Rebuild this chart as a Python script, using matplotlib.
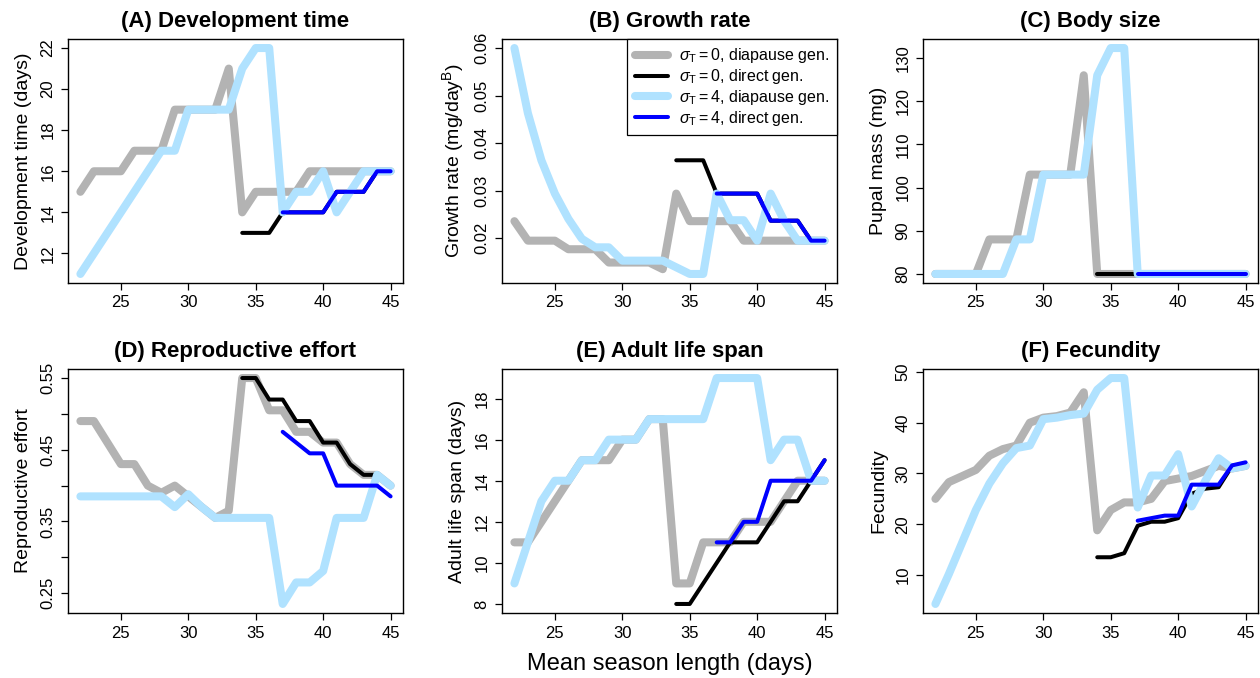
import matplotlib
matplotlib.use('Agg')
import matplotlib.pyplot as plt

plt.rcParams['font.family'] = ['Liberation Sans', 'DejaVu Sans']
plt.rcParams['mathtext.fontset'] = 'custom'
plt.rcParams['mathtext.rm'] = 'Liberation Sans'
plt.rcParams['mathtext.it'] = 'Liberation Sans:italic'

# season lengths
x_all = list(range(22, 46))
x_d0 = list(range(34, 46))   # sigma_T = 0, direct generation
x_d4 = list(range(37, 46))   # sigma_T = 4, direct generation

# (A) development time
dev_g0 = [15, 16, 16, 16, 17, 17, 17, 19, 19, 19, 19, 21, 14, 15, 15, 15, 15, 16, 16, 16, 16, 16, 16, 16]
dev_d0 = [13, 13, 13, 14, 14, 14, 14, 15, 15, 15, 16, 16]
dev_g4 = [11, 12, 13, 14, 15, 16, 17, 17, 19, 19, 19, 19, 21, 22, 22, 14, 15, 15, 16, 14, 15, 16, 16, 16]
dev_d4 = [14, 14, 14, 14, 15, 15, 15, 16, 16]

# (B) growth rate
gr_g0 = [0.0236, 0.0195, 0.0195, 0.0195, 0.0177, 0.0177, 0.0177, 0.0149, 0.0149, 0.0149, 0.0149, 0.0135,
         0.0294, 0.0236, 0.0236, 0.0236, 0.0236, 0.0195, 0.0195, 0.0195, 0.0195, 0.0195, 0.0195, 0.0195]
gr_d0 = [0.0364, 0.0364, 0.0364, 0.0294, 0.0294, 0.0294, 0.0294, 0.0237, 0.0237, 0.0237, 0.0195, 0.0195]
gr_g4 = [0.0600, 0.0463, 0.0364, 0.0294, 0.0241, 0.0199, 0.0181, 0.0181, 0.0153, 0.0153, 0.0153, 0.0153,
         0.0139, 0.0125, 0.0125, 0.0294, 0.0238, 0.0238, 0.0195, 0.0294, 0.0237, 0.0195, 0.0195, 0.0195]
gr_d4 = [0.0294, 0.0294, 0.0294, 0.0294, 0.0237, 0.0237, 0.0237, 0.0195, 0.0195]

# (C) pupal mass
pm_g0 = [80, 80, 80, 80, 88, 88, 88, 103, 103, 103, 103, 126, 80, 80, 80, 80, 80, 80, 80, 80, 80, 80, 80, 80]
pm_d0 = [80] * 12
pm_g4 = [80, 80, 80, 80, 80, 80, 88, 88, 103, 103, 103, 103, 126, 132.3, 132.3, 80, 80, 80, 80, 80, 80, 80, 80, 80]
pm_d4 = [80] * 9

# (D) reproductive effort
re_g0 = [0.49, 0.49, 0.46, 0.43, 0.43, 0.40, 0.39, 0.40, 0.385, 0.37, 0.355, 0.365,
         0.55, 0.55, 0.505, 0.505, 0.475, 0.475, 0.46, 0.46, 0.43, 0.415, 0.415, 0.40]
re_d0 = [0.55, 0.55, 0.52, 0.52, 0.49, 0.49, 0.46, 0.46, 0.43, 0.415, 0.415, 0.40]
re_g4 = [0.385, 0.385, 0.385, 0.385, 0.385, 0.385, 0.385, 0.37, 0.388, 0.37, 0.355, 0.355,
         0.355, 0.355, 0.355, 0.235, 0.265, 0.265, 0.281, 0.355, 0.355, 0.355, 0.415, 0.40]
re_d4 = [0.475, 0.46, 0.445, 0.445, 0.40, 0.40, 0.40, 0.40, 0.385]

# (E) adult life span
ls_g0 = [11, 11, 12, 13, 14, 15, 15, 15, 16, 16, 17, 17, 9, 9, 11, 11, 11, 12, 12, 12, 13, 14, 14, 14]
ls_d0 = [8, 8, 9, 10, 11, 11, 11, 12, 13, 13, 14, 15]
ls_g4 = [9, 11, 13, 14, 14, 15, 15, 16, 16, 16, 17, 17, 17, 17, 17, 19, 19, 19, 19, 15, 16, 16, 14, 14]
ls_d4 = [11, 11, 12, 12, 14, 14, 14, 14, 15]

# (F) fecundity
fe_g0 = [25, 28.3, 29.5, 30.7, 33.5, 34.8, 35.5, 40, 41, 41.3, 42, 46,
         18.8, 22.8, 24.3, 24.3, 25, 28.5, 29, 29.5, 30.5, 31.5, 31, 31.5]
fe_d0 = [13.5, 13.5, 14.3, 19.7, 20.5, 20.5, 21.2, 26, 27, 27.3, 31.5, 32]
fe_g4 = [4.3, 10.2, 16.5, 22.8, 28, 32, 35, 35.5, 40.7, 41, 41.5, 41.8,
         46.5, 48.8, 48.8, 23.3, 29.6, 29.6, 33.8, 23.5, 28.5, 33, 31, 31.5]
fe_d4 = [20.7, 21.2, 21.7, 21.7, 27.8, 27.8, 27.8, 31.6, 32.2]

GRAY = '#B3B3B3'
LBLUE = '#B0E2FF'
BLUE = '#0000FF'

panels = [
    ('(A) Development time', 'Development time (days)', dev_g0, dev_d0, dev_g4, dev_d4,
     [12, 14, 16, 18, 20, 22], None),
    ('(B) Growth rate', r'Growth rate (mg/day$^\mathrm{B}$)', gr_g0, gr_d0, gr_g4, gr_d4,
     [0.02, 0.03, 0.04, 0.05, 0.06], ['0.02', '0.03', '0.04', '0.05', '0.06']),
    ('(C) Body size', 'Pupal mass (mg)', pm_g0, pm_d0, pm_g4, pm_d4,
     [80, 90, 100, 110, 120, 130], None),
    ('(D) Reproductive effort', 'Reproductive effort', re_g0, re_d0, re_g4, re_d4,
     [0.25, 0.30, 0.35, 0.40, 0.45, 0.50, 0.55], ['0.25', '', '0.35', '', '0.45', '', '0.55']),
    ('(E) Adult life span', 'Adult life span (days)', ls_g0, ls_d0, ls_g4, ls_d4,
     [8, 10, 12, 14, 16, 18], None),
    ('(F) Fecundity', 'Fecundity', fe_g0, fe_d0, fe_g4, fe_d4,
     [10, 20, 30, 40, 50], None),
]

fig = plt.figure(figsize=(12.6, 6.78), dpi=100)
W, H = 1260, 678
lefts = [68, 502, 923]
tops = [39, 369]
aw, ah = 335, 244

for i, (title, ylab, g0, d0, g4, d4, yt, ytl) in enumerate(panels):
    r, c = divmod(i, 3)
    ax = fig.add_axes([lefts[c] / W, 1 - (tops[r] + ah) / H, aw / W, ah / H])
    kw = dict(solid_capstyle='round', solid_joinstyle='round')
    ax.plot(x_all, g0, color=GRAY, lw=5.8, label=r'$\sigma_\mathrm{T} = 0$, diapause gen.', **kw)
    ax.plot(x_d0, d0, color='black', lw=2.9, label=r'$\sigma_\mathrm{T} = 0$, direct gen.', **kw)
    ax.plot(x_all, g4, color=LBLUE, lw=5.8, label=r'$\sigma_\mathrm{T} = 4$, diapause gen.', **kw)
    ax.plot(x_d4, d4, color=BLUE, lw=2.9, label=r'$\sigma_\mathrm{T} = 4$, direct gen.', **kw)
    ax.margins(x=0.04, y=0.04)
    ax.set_xticks([25, 30, 35, 40, 45])
    ax.set_yticks(yt)
    if ytl is not None:
        ax.set_yticklabels(ytl)
    for lab in ax.get_yticklabels():
        lab.set_rotation(90)
        lab.set_verticalalignment('center')
    ax.tick_params(labelsize=12, length=5, width=0.9, direction='out', pad=4)
    ax.set_title(title, fontsize=16, fontweight='bold', pad=9)
    ax.set_ylabel(ylab, fontsize=14, labelpad=6)
    for s in ax.spines.values():
        s.set_linewidth(1.0)
    if i == 1:
        leg = ax.legend(loc='upper right', borderaxespad=0, fancybox=False, edgecolor='black',
                        framealpha=1, fontsize=11.5, handlelength=2.1, labelspacing=0.12,
                        borderpad=0.45, handletextpad=0.7)
        leg.get_frame().set_linewidth(0.9)
    if i == 4:
        ax.set_xlabel('Mean season length (days)', fontsize=17, labelpad=9)

fig.savefig('out.png', dpi=100)
